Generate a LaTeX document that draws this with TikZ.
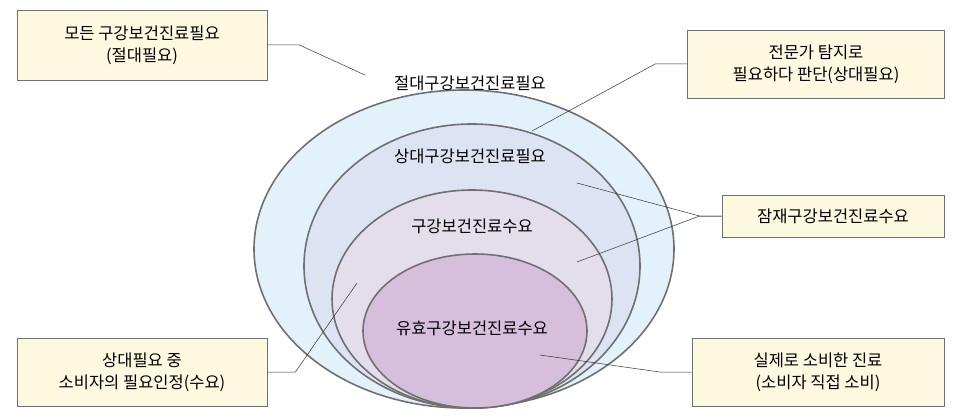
\documentclass[tikz,border=0pt]{standalone}
\usepackage{fontspec}
\setmainfont{Noto Sans CJK KR}
\usetikzlibrary{positioning}
\definecolor{boxfill}{HTML}{FDF8E0}
\definecolor{edgegray}{HTML}{707070}
\definecolor{ringA}{HTML}{E3F1FA}
\definecolor{ringB}{HTML}{DCE3F3}
\definecolor{ringC}{HTML}{E4DDEC}
\definecolor{ringD}{HTML}{D5BFDC}

\begin{document}
\begin{tikzpicture}[x=1pt, y=-1pt, font=\fontsize{16.5}{22}\selectfont,
	ring/.style={draw=edgegray, line width=1.6pt},
	note/.style={draw=edgegray, fill=boxfill, line width=0.8pt, align=center, inner sep=0pt},
	lead/.style={draw=black!80, line width=0.5pt}]
	\useasboundingbox (0,0) rectangle (954,420);

	% Rings, outer to inner
	\draw [ring, fill=ringA] (464,249) ellipse [x radius=210, y radius=159];
	\draw [ring, fill=ringB] (472,266) ellipse [x radius=168, y radius=142];
	\draw [ring, fill=ringC] (472,299) ellipse [x radius=140, y radius=109];
	\draw [ring, fill=ringD] (475,331) ellipse [x radius=112, y radius=77];

	% Ring labels
	\node (absolute) at (470,83)  {절대구강보건진료필요};
	\node (relative) at (470,156) {상대구강보건진료필요};
	\node (demand)   at (472,226) {구강보건진료수요};
	\node (effective) at (472,328) {유효구강보건진료수요};

	% Notes
	\node [note, minimum width=250pt, minimum height=70pt] (nAll) at (142,45)
		{모든 구강보건진료필요\\(절대필요)};
	\node [note, minimum width=257pt, minimum height=68pt] (nExpert) at (816,64)
		{전문가 탐지로\\필요하다 판단(상대필요)};
	\node [note, minimum width=222pt, minimum height=42pt] (nLatent) at (833,216)
		{잠재구강보건진료수요};
	\node [note, minimum width=250pt, minimum height=68pt] (nPerceived) at (142,372)
		{상대필요 중\\소비자의 필요인정(수요)};
	\node [note, minimum width=252pt, minimum height=68pt] (nUsed) at (818,372)
		{실제로 소비한 진료\\(소비자 직접 소비)};

	% Leader lines
	\coordinate (pAll) at (365,75);
	\coordinate (pExpert) at (532,131);
	\coordinate (pLatentA) at (577,183);
	\coordinate (pLatentB) at (577,262);
	\coordinate (pPerceived) at (357,283);
	\coordinate (pUsed) at (540,355);
	\draw [lead] (nAll.east) -- ++(32,0) -- (pAll);
	\draw [lead] (nExpert.west) -- ++(-32,0) -- (pExpert);
	\draw [lead] (nLatent.west) -- ++(-22,0) -- (pLatentA);
	\draw [lead] (nLatent.west) -- ++(-22,0) -- (pLatentB);
	\draw [lead] (nPerceived.east) -- ++(28,0) -- (pPerceived);
	\draw [lead] (nUsed.west) -- ++(-32,0) -- (pUsed);
\end{tikzpicture}
\end{document}
